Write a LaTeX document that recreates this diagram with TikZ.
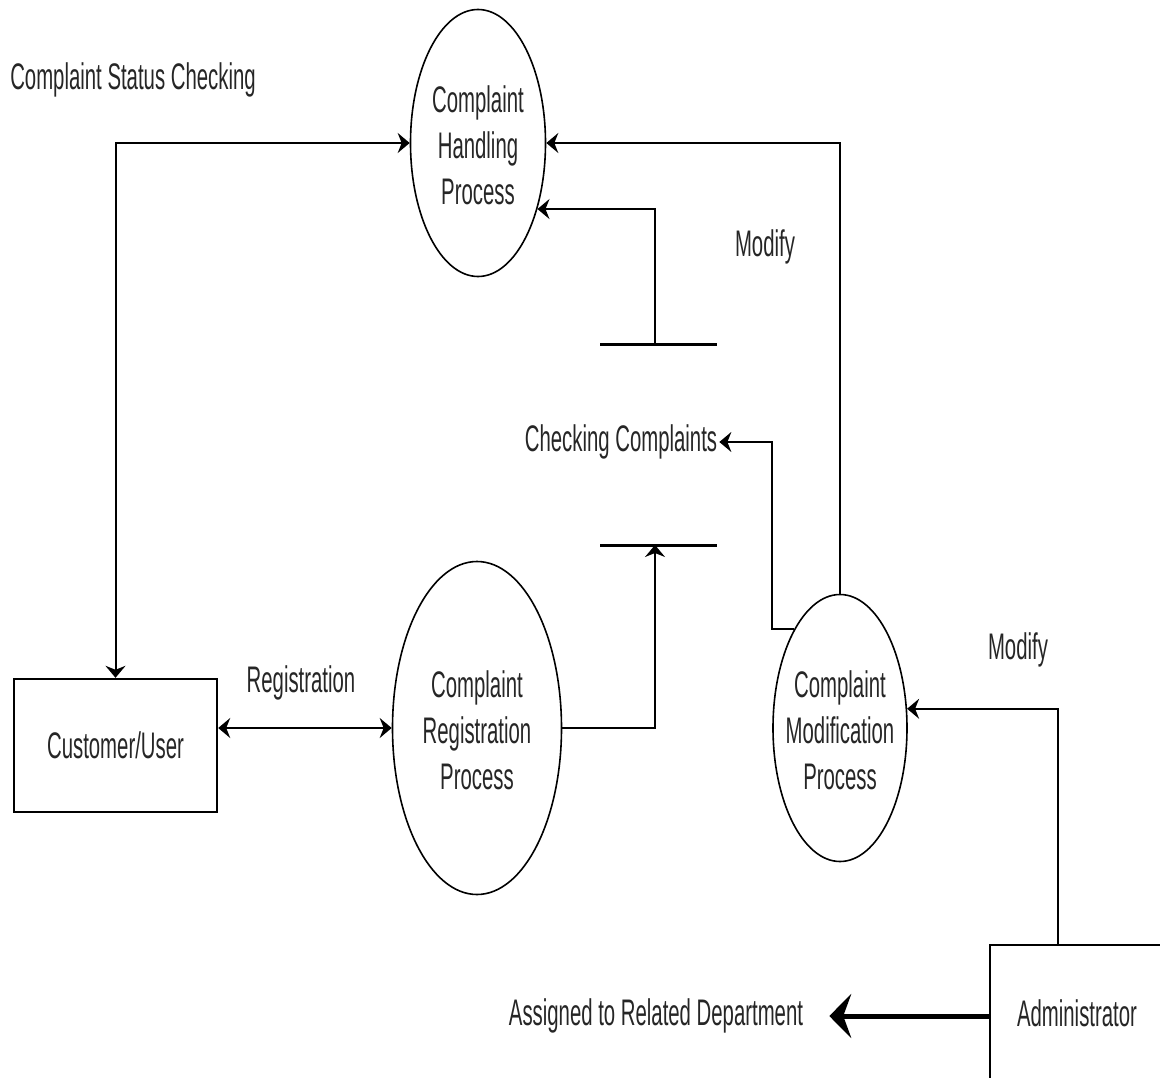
\documentclass[tikz,border=0pt]{standalone}
\usepackage{fontspec}
\setmainfont{Liberation Sans}[FakeStretch=0.55]
\usetikzlibrary{shapes.geometric,arrows.meta,calc}

\begin{document}
\begin{tikzpicture}[x=1pt,y=-1pt,
  every node/.style={font=\fontsize{37}{46}\selectfont, text=black!85},
  process/.style={draw, ellipse, line width=1.6pt, inner sep=0pt},
  ptext/.style={align=center, inner sep=0pt},
  entity/.style={draw, rectangle, line width=2.4pt, inner sep=0pt},
  flow/.style={line width=2pt, -{Stealth[length=12pt,width=20pt,inset=4pt]}},
  biflow/.style={line width=2pt, {Stealth[length=12pt,width=20pt,inset=4pt]}-{Stealth[length=12pt,width=20pt,inset=4pt]}},
  storeline/.style={line width=3pt},
  label/.style={inner sep=2pt}
]
\useasboundingbox (0,0) rectangle (1160,1078);

% processes: outline and caption as separate nodes so the outline keeps its size
\node[process, minimum width=135pt, minimum height=267pt] (hand) at (478,143) {};
\node[ptext] (handtxt) at ([yshift=-2pt]hand.center) {Complaint\\Handling\\Process};
\node[process, minimum width=169pt, minimum height=333pt] (reg) at (477,728) {};
\node[ptext] (regtxt) at ([yshift=-2pt]reg.center) {Complaint\\Registration\\Process};
\node[process, minimum width=134pt, minimum height=267pt] (mod) at (840,728) {};
\node[ptext] (modtxt) at ([yshift=-2pt]mod.center) {Complaint\\Modification\\Process};

% external entities
\node[entity, minimum width=203pt, minimum height=133pt] (cust) at (115.5,745.5) {Customer/User};
\node[entity, minimum width=174pt, minimum height=136pt] (admin) at (1077,1013) {Administrator};

% data store
\coordinate (storetop) at (655,344);
\coordinate (storebot) at (655,545);
\draw[storeline] (600,344) -- (717,344);
\draw[storeline] (600,545) -- (717,545);
\node[label] (chk) at (621,442) {Checking Complaints};

% labels
\node[label] (lstatus) at (133,80) {Complaint Status Checking};
\node[label] (lreg) at (301,683) {Registration};
\node[label] (lmod1) at (765,247) {Modify};
\node[label] (lmod2) at (1018,650) {Modify};
\node[label] (assign) at (656,1016) {Assigned to Related Department};

% data flows
\draw[biflow] (cust.north) |- (hand.west);
\draw[biflow] (cust.east |- reg.west) -- (reg.west);
\draw[flow] (reg.east) -| (storebot);
\draw[flow] (storetop) |- (hand.-48);
\draw[flow] (mod.north) |- (hand.east);
\draw[flow] (mod.115) -- (mod.115 -| mod.west) |- (chk.east);
\draw[flow] ([xshift=-19pt]admin.north) |- (mod.16);
\draw[line width=5pt, -{Stealth[length=22pt,width=44pt,inset=8pt]}]
  (admin.west |- assign.east) -- ([xshift=24pt]assign.east);
\end{tikzpicture}
\end{document}
